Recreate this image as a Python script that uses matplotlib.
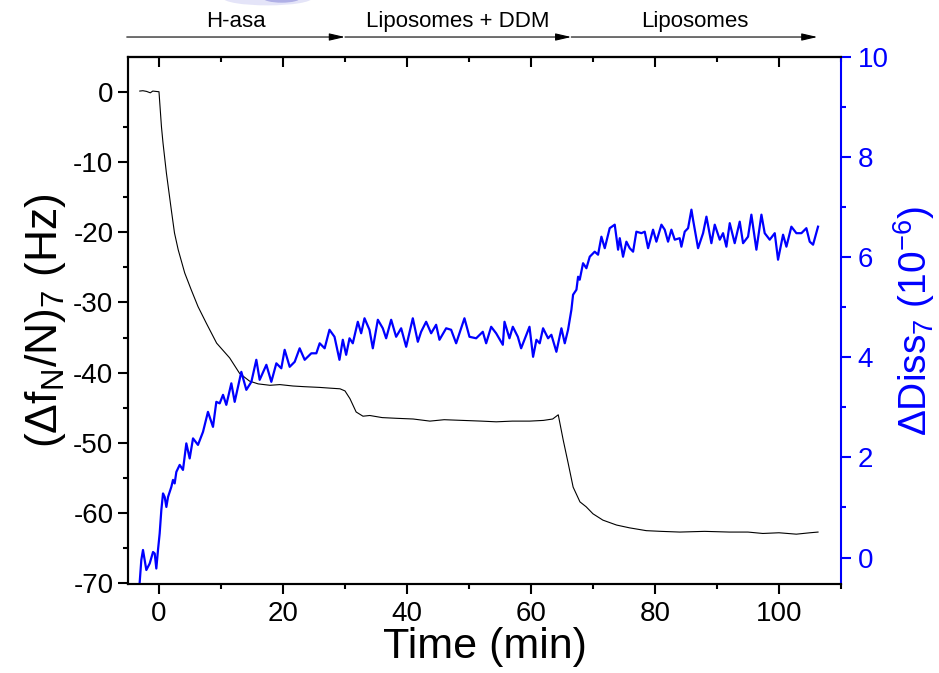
#!/usr/bin/env python3
"""
QCM-D: cambio de frecuencia y disipación (armónico 7) durante la secuencia
H-asa -> Liposomas + DDM -> Liposomas.

Salida: out.png
"""

from __future__ import annotations

import matplotlib

matplotlib.use("Agg")
import matplotlib.pyplot as plt
from matplotlib.patches import Ellipse

OUTPUT_PNG = "out.png"

# (Δf_N/N)_7 en Hz
FREQ_T = [
  -3.1, -2.6, -2.0, -1.4, -1.0, -0.5, 0.0, 0.4, 0.65, 1.2, 2.0, 2.5, 3.1,
  4.15, 5.2, 6.3, 7.66, 9.3, 11.4, 13.0, 14.6, 16.0, 17.9, 19.5, 21.6,
  23.5, 25.9, 27.5, 29.2, 30.0, 30.8, 31.8, 32.9, 34.0, 36.0, 38.3, 41.0,
  43.7, 46.0, 49.0, 52.0, 54.4, 57.0, 59.8, 62.0, 63.5, 64.4, 65.2, 66.0,
  66.8, 67.9, 68.9, 70.0, 71.6, 73.8, 75.9, 78.6, 81.0, 84.0, 88.0, 92.0,
  95.0, 97.4, 100.0, 102.8, 105.0, 106.3,
]
FREQ_HZ = [
  0.1, 0.15, 0.05, -0.15, 0.1, 0.05, 0.0, -5.0, -7.3, -11.6, -16.9, -20.1,
  -22.5, -25.8, -28.2, -30.6, -33.0, -35.8, -37.9, -40.1, -41.2, -41.6,
  -41.8, -41.7, -41.9, -42.0, -42.1, -42.2, -42.3, -42.6, -43.7, -45.6,
  -46.2, -46.1, -46.4, -46.5, -46.6, -46.9, -46.7, -46.8, -46.9, -47.0,
  -46.9, -46.9, -46.8, -46.6, -46.0, -49.6, -52.9, -56.3, -58.4, -59.1,
  -60.1, -61.0, -61.7, -62.1, -62.5, -62.6, -62.7, -62.6, -62.7, -62.7,
  -62.9, -62.8, -63.0, -62.8, -62.7,
]

# ΔDiss_7 en 1e-6
DISS_T = [
  -3.11, -2.85, -2.58, -2.31, -2.04, -1.5, -0.96, -0.69, -0.43, -0.16,
  0.11, 0.38, 0.65, 0.92, 1.19, 1.46, 1.99, 2.26, 2.53, 2.8, 3.34, 3.87,
  4.41, 4.95, 5.49, 6.29, 7.1, 7.9, 8.71, 9.25, 9.79, 10.33, 10.86, 11.67,
  12.21, 13.28, 14.09, 14.9, 15.7, 16.24, 17.32, 18.12, 18.93, 19.73,
  20.27, 21.08, 21.89, 22.69, 23.5, 24.57, 25.38, 25.92, 26.72,
  27.5, 28.31, 29.11, 29.65, 30.19, 30.73, 31.26, 32.07, 32.61, 33.15,
  33.95, 34.49, 35.3, 36.1, 36.64, 37.45, 38.25, 39.06, 39.87, 40.94,
  41.75, 42.28, 43.09, 43.9, 44.7, 45.24, 46.32, 47.12, 47.93, 49.27,
  50.08, 51.16, 52.23, 52.77, 53.58, 54.38, 55.46, 55.73, 56.53, 57.07,
  57.88, 58.41, 59.76,
  60.34, 60.88, 61.41, 61.95, 62.76, 63.29, 64.1, 64.91, 65.45, 65.98,
  66.52, 66.79, 67.33, 67.6, 67.86, 68.4, 68.94, 69.48, 70.28, 70.82,
  71.36, 71.9, 72.7, 73.51, 74.05, 74.32, 74.85, 75.39, 75.93, 76.47,
  77.0, 77.81, 78.35, 78.89, 79.69, 80.23, 81.04, 81.57, 82.11, 82.65,
  83.19, 83.99, 84.26, 84.8, 85.34, 85.88, 86.14, 86.95, 87.76, 88.3,
  89.1, 89.64, 90.45, 90.98, 91.52, 92.06, 92.86, 93.67, 94.21, 95.01,
  95.55, 96.36, 97.17, 97.7, 98.51, 99.32, 99.85, 100.66, 101.2, 102.0,
  102.81, 103.62, 104.42, 104.96, 105.5, 106.3,
]
DISS_E6 = [
  -0.49, -0.05, 0.15, -0.05, -0.25, -0.12, 0.11, 0.08, -0.22, 0.15,
  0.48, 0.95, 1.28, 1.21, 1.01, 1.21, 1.41, 1.55, 1.48, 1.71, 1.85, 1.75,
  2.28, 1.98, 2.38, 2.25, 2.51, 2.91, 2.61, 3.11, 3.08, 3.25, 3.05, 3.48,
  3.11, 3.71, 3.35, 3.51, 3.95, 3.55, 3.85, 3.51, 3.88, 3.78,
  4.15, 3.81, 3.91, 4.18, 3.95, 4.08, 4.08, 4.28, 4.18,
  4.55, 4.41, 3.95, 4.35, 4.05, 4.38, 4.28, 4.71, 4.48, 4.78,
  4.55, 4.18, 4.75, 4.58, 4.38, 4.75, 4.41, 4.58, 4.21, 4.78,
  4.31, 4.51, 4.71, 4.48, 4.65, 4.35, 4.58, 4.55, 4.28, 4.78,
  4.41, 4.38, 4.51, 4.28, 4.61, 4.48, 4.25, 4.71, 4.38, 4.61,
  4.41, 4.18, 4.61,
  4.01, 4.35, 4.28, 4.58, 4.38, 4.45, 4.11, 4.58, 4.28, 4.55,
  4.95, 5.25, 5.35, 5.61, 5.55, 5.88, 5.78, 6.01, 6.11, 6.05,
  6.41, 6.18, 6.58, 6.65, 6.15, 6.38, 6.01, 6.31, 6.18, 6.11,
  6.51, 6.48, 6.51, 6.18, 6.55, 6.31, 6.65, 6.55, 6.31, 6.55,
  6.35, 6.38, 6.21, 6.51, 6.58, 6.95, 6.75, 6.18, 6.48, 6.81,
  6.28, 6.65, 6.35, 6.48, 6.21, 6.68, 6.28, 6.71, 6.28, 6.41,
  6.85, 6.15, 6.85, 6.48, 6.35, 6.48, 5.95, 6.45, 6.21, 6.61,
  6.48, 6.48, 6.58, 6.31, 6.25, 6.61,
]

# etapas (inicio, fin) en minutos y texto
STAGES = [
  (-5.2, 30.0, "H-asa"),
  (30.0, 66.5, "Liposomes + DDM"),
  (66.5, 106.2, "Liposomes"),
]

BLUE = "#0000ff"
FONT = "Liberation Sans"


def main() -> int:
  plt.rcParams["font.family"] = [FONT, "DejaVu Sans"]
  plt.rcParams["mathtext.default"] = "regular"
  plt.rcParams["axes.unicode_minus"] = False

  fig = plt.figure(figsize=(9.39, 6.73), dpi=100)
  ax = fig.add_axes([0.1363, 0.1322, 0.7593, 0.7831])
  ax2 = ax.twinx()

  ax.plot(FREQ_T, FREQ_HZ, color="black", linewidth=0.8)
  ax2.plot(DISS_T, DISS_E6, color=BLUE, linewidth=1.6)

  ax.set_xlim(-5.0, 110.0)
  ax.set_ylim(-70.1, 4.95)
  ax2.set_ylim(-0.53, 10.0)

  ax.set_xticks(range(0, 101, 20))
  ax.set_xticks(range(10, 111, 20), minor=True)
  ax.set_yticks(range(-70, 1, 10))
  ax.set_yticks(range(-65, 5, 10), minor=True)
  ax2.set_yticks(range(0, 11, 2))
  ax2.set_yticks(range(1, 10, 2), minor=True)

  for side in ("left", "bottom", "top"):
    ax.spines[side].set_linewidth(1.5)
    ax2.spines[side].set_linewidth(1.5)
  ax2.spines["right"].set_linewidth(1.5)
  ax2.spines["right"].set_color(BLUE)
  ax.spines["right"].set_visible(False)

  ax.tick_params(axis="both", which="major", direction="out", length=7,
                 width=1.5, labelsize=20)
  ax.tick_params(axis="both", which="minor", direction="out", length=3.5,
                 width=1.5)
  ax.tick_params(axis="x", pad=5)
  ax2.tick_params(axis="y", which="major", direction="out", length=7,
                  width=1.5, labelsize=20, colors=BLUE, pad=5)
  ax2.tick_params(axis="y", which="minor", direction="out", length=3.5,
                  width=1.5, colors=BLUE)

  # ticks superiores hacia dentro, sin etiquetas
  top = ax.secondary_xaxis("top")
  top.set_xticks(range(0, 101, 20))
  top.set_xticks(range(10, 111, 20), minor=True)
  top.tick_params(axis="x", which="major", direction="in", length=7,
                  width=1.5, labeltop=False)
  top.tick_params(axis="x", which="minor", direction="in", length=3.5,
                  width=1.5)
  top.spines["top"].set_linewidth(1.5)

  ax.set_xlabel("Time (min)", fontsize=31, labelpad=0)
  ax.set_ylabel(r"$(\Delta f_N/N)_7$ (Hz)", fontsize=32, labelpad=4)
  ax2.set_ylabel(r"$\Delta Diss_7$ $(10^{-6})$", fontsize=28, color=BLUE,
                 labelpad=2)

  # flechas de etapas sobre el gráfico
  for x0, x1, label in STAGES:
    ax.annotate(
      "", xy=(x1, 0.945), xytext=(x0, 0.945),
      xycoords=("data", "figure fraction"),
      textcoords=("data", "figure fraction"),
      arrowprops=dict(arrowstyle="-|>,head_length=0.95,head_width=0.22",
                      color="black", lw=0.8, shrinkA=0, shrinkB=0),
      annotation_clip=False,
    )
    ax.annotate(
      label, xy=((x0 + x1) / 2, 0.968), xycoords=("data", "figure fraction"),
      ha="center", va="center", fontsize=16, annotation_clip=False,
    )

  # mancha difusa en el borde superior
  fig.patches.append(Ellipse((0.285, 1.003), 0.095, 0.022, transform=fig.transFigure,
                             facecolor="#e4e4f8", edgecolor="none", zorder=0))
  fig.patches.append(Ellipse((0.3, 1.003), 0.04, 0.014, transform=fig.transFigure,
                             facecolor="#b0b0e6", edgecolor="none", zorder=0))

  fig.savefig(OUTPUT_PNG, dpi=100)
  plt.close(fig)
  return 0


if __name__ == "__main__":
  raise SystemExit(main())
